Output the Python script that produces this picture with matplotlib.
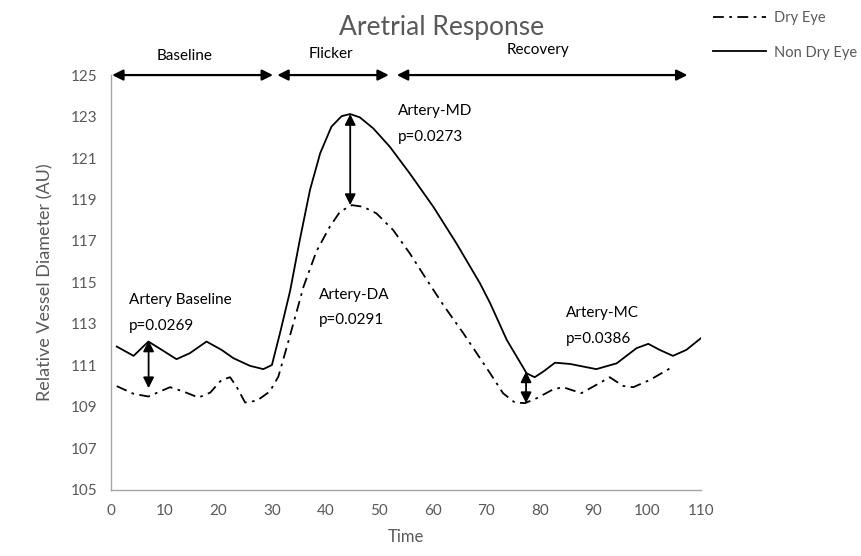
import matplotlib
matplotlib.use("Agg")
import matplotlib.pyplot as plt
from matplotlib.lines import Line2D

# Non dry eye (solid) readings
non_dry_t = [1.06, 4.2, 6.96, 9.45, 12.2, 14.7, 17.8, 20.6, 22.8, 25.9, 28.4, 30.0,
             31.5, 33.4, 35.2, 37.1, 39.0, 41.1, 43.0, 44.6, 46.4, 48.9, 52.0, 55.7,
             60.1, 64.4, 68.8, 70.7, 73.8, 77.5, 79.0, 80.6, 82.8, 85.6, 90.5, 94.3,
             98.0, 100.2, 102.3, 104.8, 107.3, 110.0]
non_dry_v = [111.91, 111.46, 112.15, 111.75, 111.3, 111.59, 112.15, 111.75, 111.35, 110.98,
             110.82, 111.02, 112.55, 114.6, 117.05, 119.46, 121.23, 122.51, 123.02, 123.12,
             122.96, 122.43, 121.54, 120.26, 118.65, 116.89, 114.96, 114.0, 112.23, 110.62,
             110.43, 110.7, 111.13, 111.07, 110.82, 111.1, 111.83, 112.04, 111.75, 111.46,
             111.75, 112.31]

# Dry eye (dash-dot) readings
dry_t = [1.06, 4.2, 6.96, 11.0, 13.5, 16.3, 18.5, 20.6, 22.2, 23.4, 25.0, 27.2,
         29.6, 31.2, 32.8, 34.3, 35.9, 38.3, 40.8, 42.7, 44.9, 47.0, 49.5, 52.6,
         55.7, 58.9, 62.0, 65.7, 70.7, 73.1, 75.3, 77.2, 79.4, 82.5, 84.3, 87.7,
         90.5, 93.0, 95.5, 97.4, 100.5, 104.8]
dry_v = [110.0, 109.63, 109.5, 109.95, 109.74, 109.45, 109.69, 110.3, 110.43, 109.98,
         109.21, 109.3, 109.74, 110.46, 111.91, 113.3, 114.8, 116.5, 117.69, 118.41,
         118.73, 118.65, 118.33, 117.53, 116.41, 115.12, 113.9, 112.55, 110.62, 109.66,
         109.21, 109.18, 109.42, 109.85, 109.95, 109.66, 110.06, 110.43, 110.01, 109.95,
         110.3, 110.94]

# phases (start, end, label x)
phases = ["Baseline", "Flicker", "Recovery"]
phase_start = [0.2, 31.0, 53.3]
phase_end = [30.2, 51.8, 107.5]
phase_label_x = [13.7, 41.1, 79.7]
phase_label_y = [125.6, 125.7, 125.85]

# comparisons: arrow x, top, bottom
comp_x = [7.0, 44.6, 77.4]
comp_top = [112.2, 123.12, 110.71]
comp_bot = [109.9, 118.73, 109.18]

notes = ["Artery Baseline\n\np=0.0269", "Artery-DA\n\np=0.0291",
         "Artery-MD\n\np=0.0273", "Artery-MC\n\np=0.0386"]
note_x = [3.4, 38.8, 53.5, 84.9]
note_y = [114.5, 114.75, 123.6, 113.85]

plt.rcParams['font.family'] = ['Lato', 'DejaVu Sans']
grey = '#595959'
dashdot = (0, (6, 3, 1.5, 3))

fig = plt.figure(figsize=(8.61, 5.56), dpi=100)
ax = fig.add_axes([0.129, 0.119, 0.685, 0.746])

ax.plot(non_dry_t, non_dry_v, color='black', lw=1.3, label='Non Dry Eye')
ax.plot(dry_t, dry_v, color='black', lw=1.3, linestyle=dashdot, label='Dry Eye')

for name, s, e, lx, ly in zip(phases, phase_start, phase_end, phase_label_x, phase_label_y):
    ax.annotate('', xy=(e, 125), xytext=(s, 125),
                arrowprops=dict(arrowstyle='<|-|>', color='black', lw=1.6,
                                mutation_scale=16, shrinkA=0, shrinkB=0),
                annotation_clip=False)
    ax.text(lx, ly, name, ha='center', va='bottom', fontsize=11, color='black')

for x, top, bot in zip(comp_x, comp_top, comp_bot):
    ax.annotate('', xy=(x, bot), xytext=(x, top),
                arrowprops=dict(arrowstyle='<|-|>', color='black', lw=1.3,
                                mutation_scale=16, shrinkA=0, shrinkB=0))

for txt, x, y in zip(notes, note_x, note_y):
    ax.text(x, y, txt, ha='left', va='top', fontsize=11, color='black', linespacing=0.9)

ax.set_xlim(0, 110)
ax.set_ylim(105, 125)
ax.set_xticks(range(0, 111, 10))
ax.set_yticks(range(105, 126, 2))
ax.tick_params(length=0, labelsize=11, labelcolor=grey, pad=10)
for side in ['top', 'right']:
    ax.spines[side].set_visible(False)
for side in ['left', 'bottom']:
    ax.spines[side].set_color('#a6a6a6')
    ax.spines[side].set_linewidth(1)

ax.set_xlabel('Time', fontsize=12, color=grey, labelpad=8)
ax.set_ylabel('Relative Vessel Diameter (AU)', fontsize=13, color=grey, labelpad=12)
fig.text(442 / 861, 1 - 28 / 556, 'Aretrial Response', ha='center', va='center',
         fontsize=19, color=grey)

handles = [Line2D([], [], color='black', lw=1.3, linestyle=dashdot),
           Line2D([], [], color='black', lw=1.3)]
fig.legend(handles, ['Dry Eye', 'Non Dry Eye'], loc='upper left',
           bbox_to_anchor=(700 / 861, 1 + 2 / 556), frameon=False,
           handlelength=3.6, labelspacing=1.4, fontsize=10.5, labelcolor=grey,
           handletextpad=0.6)

fig.savefig('out.png', dpi=100)
